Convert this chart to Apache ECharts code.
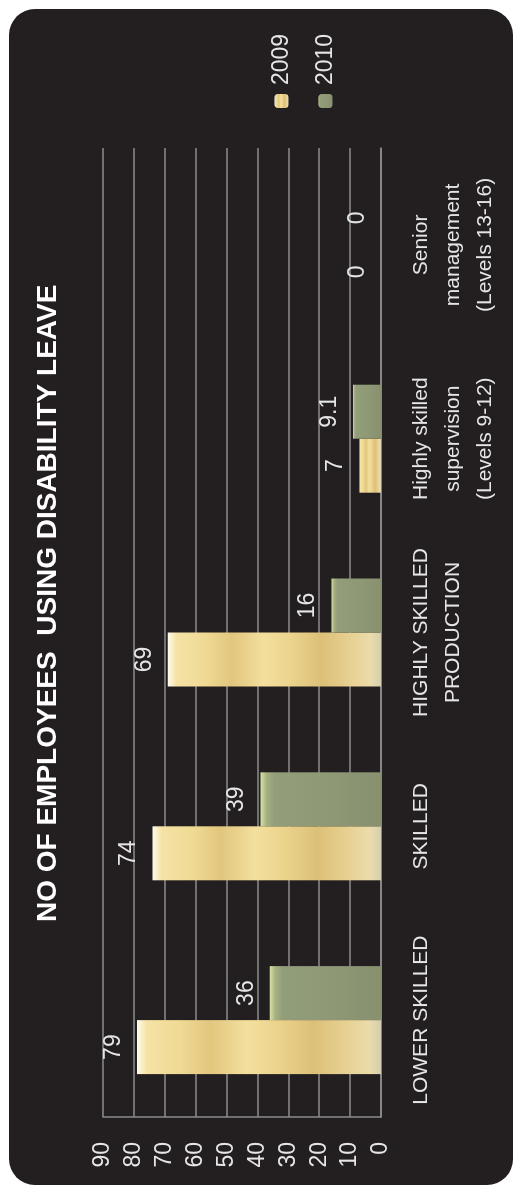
<!DOCTYPE html>
<html>
<head>
<meta charset="utf-8">
<script src="https://cdn.jsdelivr.net/npm/echarts@6/dist/echarts.min.js"></script>
<style>
html,body{margin:0;padding:0;background:#ffffff;width:515px;height:1189px;overflow:hidden;}
#wrap{position:absolute;left:0;top:0;width:1189px;height:515px;transform-origin:0 0;transform:translate(0,1189px) rotate(-90deg);}
#chart{width:1189px;height:515px;}
</style>
</head>
<body>
<div id="wrap"><div id="chart"></div></div>
<script>
const titleText = 'NO OF EMPLOYEES  USING DISABILITY LEAVE';
const categories = ['LOWER SKILLED', 'SKILLED', 'HIGHLY SKILLED\nPRODUCTION', 'Highly skilled\nsupervision\n(Levels 9-12)', 'Senior\nmanagement\n(Levels 13-16)'];
const seriesNames = ['2009', '2010'];
const values2009 = [79, 74, 69, 7, 0];
const values2010 = [36, 39, 16, 9.1, 0];
const axisMin = 0, axisMax = 90, axisStep = 10;

const FONT = '"Liberation Sans", Arial, sans-serif';
const goldFill = new echarts.graphic.LinearGradient(0, 0, 0, 1, [
  {offset: 0, color: '#fffbea'}, {offset: 0.04, color: '#f5e3a6'},
  {offset: 0.18, color: '#efd993'}, {offset: 0.3, color: '#e2c67e'},
  {offset: 0.45, color: '#f3df9e'}, {offset: 0.58, color: '#ebd38c'},
  {offset: 0.72, color: '#dcc078'}, {offset: 0.86, color: '#e7d193'},
  {offset: 0.95, color: '#ebdcab'}, {offset: 1, color: '#d4ceb0'}
]);
const oliveFill = new echarts.graphic.LinearGradient(0, 0, 0, 1, [
  {offset: 0, color: '#d6e3a2'}, {offset: 0.05, color: '#a6b083'},
  {offset: 0.12, color: '#929d79'}, {offset: 0.6, color: '#8e9875'},
  {offset: 1, color: '#87906f'}
]);
const chart = echarts.init(document.getElementById('chart'), null, {renderer: 'canvas'});
const labelStyle = {show: true, position: 'top', distance: 12, color: '#e6e6e6', fontSize: 23, fontFamily: FONT};
chart.setOption({
  animation: false,
  backgroundColor: 'transparent',
  graphic: [{type: 'rect', z: -10, shape: {x: 4, y: 9, width: 1176, height: 504, r: 26}, style: {fill: '#231f20'}}],
  title: {text: titleText, left: 267, top: 34, padding: 0,
    textStyle: {color: '#ffffff', fontSize: 28, fontWeight: 'bold', fontFamily: FONT}},
  legend: {data: seriesNames, orient: 'vertical', left: 1081, top: 270, padding: 0, itemWidth: 14, itemHeight: 14, itemGap: 21,
    textStyle: {color: '#e6e6e6', fontSize: 23, fontFamily: FONT, padding: [0, 0, 0, 4]}},
  grid: {left: 72, top: 103, width: 969, height: 278, containLabel: false},
  xAxis: {type: 'category', data: categories,
    axisLine: {show: true, lineStyle: {color: '#8e8e8e', width: 1.5}},
    axisTick: {show: false},
    axisLabel: {color: '#e6e6e6', fontSize: 21, fontFamily: FONT, lineHeight: 32, margin: 24, interval: 0, align: 'center'}},
  yAxis: {type: 'value', min: axisMin, max: axisMax, interval: axisStep,
    axisLine: {show: true, lineStyle: {color: '#8e8e8e', width: 1.5}},
    axisTick: {show: false},
    splitLine: {lineStyle: {color: '#8e8e8e', width: 1.5}},
    axisLabel: {color: '#e6e6e6', fontSize: 23, fontFamily: FONT, margin: 25}},
  series: [
    {name: seriesNames[0], type: 'bar', data: values2009, barWidth: 54, barGap: '0%',
      itemStyle: {color: goldFill, borderWidth: 0}, label: labelStyle},
    {name: seriesNames[1], type: 'bar', data: values2010, barWidth: 54, barGap: '0%',
      itemStyle: {color: oliveFill, borderWidth: 0}, label: labelStyle}
  ]
});
</script>
</body>
</html>
